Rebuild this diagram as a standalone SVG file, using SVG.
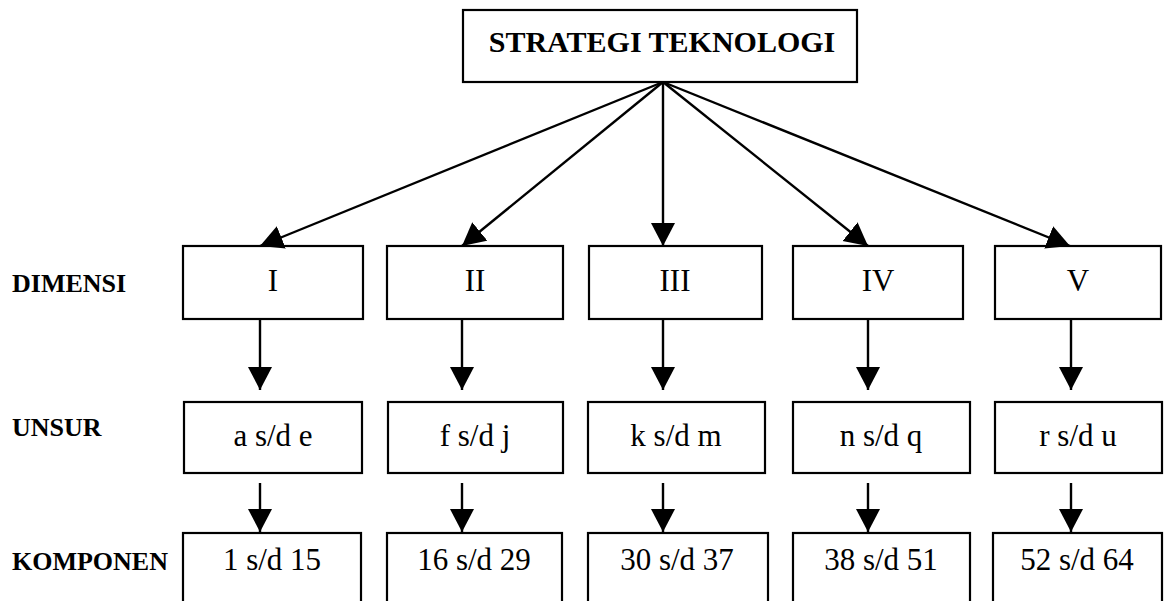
<svg xmlns="http://www.w3.org/2000/svg" width="1167" height="601" viewBox="0 0 1167 601">
  <style>
    .box { fill: #fff; stroke: #000; stroke-width: 2.2; }
    .lbl { font-family: "Liberation Serif", "Times New Roman", serif; font-weight: bold; font-size: 26px; fill: #000; }
    .title { font-family: "Liberation Serif", "Times New Roman", serif; font-weight: bold; font-size: 30px; fill: #000; text-anchor: middle; }
    .txt { font-family: "Liberation Serif", "Times New Roman", serif; font-size: 31px; fill: #000; text-anchor: middle; }
    .conn { stroke: #000; stroke-width: 2.4; fill: none; marker-end: url(#head); }
  </style>
  <defs>
    <marker id="head" markerUnits="userSpaceOnUse" markerWidth="26" markerHeight="26" refX="23" refY="12" orient="auto">
      <path d="M0,0 L23,12 L0,24 z" fill="#000"/>
    </marker>
  </defs>
  <rect width="1167" height="601" fill="#fff"/>

  <!-- row labels -->
  <g id="labels">
    <text class="lbl" x="12" y="292">DIMENSI</text>
    <text class="lbl" x="12" y="436">UNSUR</text>
    <text class="lbl" x="12" y="570">KOMPONEN</text>
  </g>

  <!-- root -->
  <g id="root">
    <rect class="box" x="463" y="10" width="394" height="72"/>
    <text class="title" x="662" y="52">STRATEGI TEKNOLOGI</text>
  </g>

  <!-- dimensions -->
  <g id="dim-1"><rect class="box" x="183" y="246" width="180" height="73"/><text class="txt" x="273" y="291">I</text></g>
  <g id="dim-2"><rect class="box" x="387" y="246" width="176" height="73"/><text class="txt" x="475" y="291">II</text></g>
  <g id="dim-3"><rect class="box" x="589" y="246" width="173" height="73"/><text class="txt" x="675" y="291">III</text></g>
  <g id="dim-4"><rect class="box" x="793" y="246" width="170" height="73"/><text class="txt" x="878" y="291">IV</text></g>
  <g id="dim-5"><rect class="box" x="995" y="246" width="166" height="73"/><text class="txt" x="1078" y="291">V</text></g>

  <!-- elements -->
  <g id="unsur-1"><rect class="box" x="184" y="402" width="178" height="71"/><text class="txt" x="273" y="446">a s/d e</text></g>
  <g id="unsur-2"><rect class="box" x="388" y="402" width="175" height="71"/><text class="txt" x="475" y="446">f s/d j</text></g>
  <g id="unsur-3"><rect class="box" x="588" y="402" width="177" height="71"/><text class="txt" x="676" y="446">k s/d m</text></g>
  <g id="unsur-4"><rect class="box" x="793" y="402" width="177" height="71"/><text class="txt" x="881" y="446">n s/d q</text></g>
  <g id="unsur-5"><rect class="box" x="995" y="402" width="167" height="71"/><text class="txt" x="1078" y="446">r s/d u</text></g>

  <!-- components (run past the bottom edge) -->
  <g id="komponen-1"><rect class="box" x="183" y="533" width="178" height="90"/><text class="txt" x="272" y="570">1 s/d 15</text></g>
  <g id="komponen-2"><rect class="box" x="387" y="533" width="175" height="90"/><text class="txt" x="474" y="570">16 s/d 29</text></g>
  <g id="komponen-3"><rect class="box" x="588" y="533" width="180" height="90"/><text class="txt" x="677" y="570">30 s/d 37</text></g>
  <g id="komponen-4"><rect class="box" x="793" y="533" width="177" height="90"/><text class="txt" x="881" y="570">38 s/d 51</text></g>
  <g id="komponen-5"><rect class="box" x="993" y="533" width="169" height="90"/><text class="txt" x="1077" y="570">52 s/d 64</text></g>

  <!-- connectors -->
  <g id="connectors">
    <line class="conn" x1="663" y1="82" x2="260" y2="246"/>
    <line class="conn" x1="663" y1="82" x2="462" y2="246"/>
    <line class="conn" x1="663" y1="82" x2="663" y2="246"/>
    <line class="conn" x1="663" y1="82" x2="868" y2="246"/>
    <line class="conn" x1="663" y1="82" x2="1070" y2="246"/>

    <line class="conn" x1="260" y1="319" x2="260" y2="390"/>
    <line class="conn" x1="462" y1="319" x2="462" y2="390"/>
    <line class="conn" x1="663" y1="319" x2="663" y2="390"/>
    <line class="conn" x1="868" y1="319" x2="868" y2="390"/>
    <line class="conn" x1="1071" y1="319" x2="1071" y2="390"/>

    <line class="conn" x1="260" y1="483" x2="260" y2="532"/>
    <line class="conn" x1="462" y1="483" x2="462" y2="532"/>
    <line class="conn" x1="663" y1="483" x2="663" y2="532"/>
    <line class="conn" x1="868" y1="483" x2="868" y2="532"/>
    <line class="conn" x1="1071" y1="483" x2="1071" y2="532"/>
  </g>
</svg>
